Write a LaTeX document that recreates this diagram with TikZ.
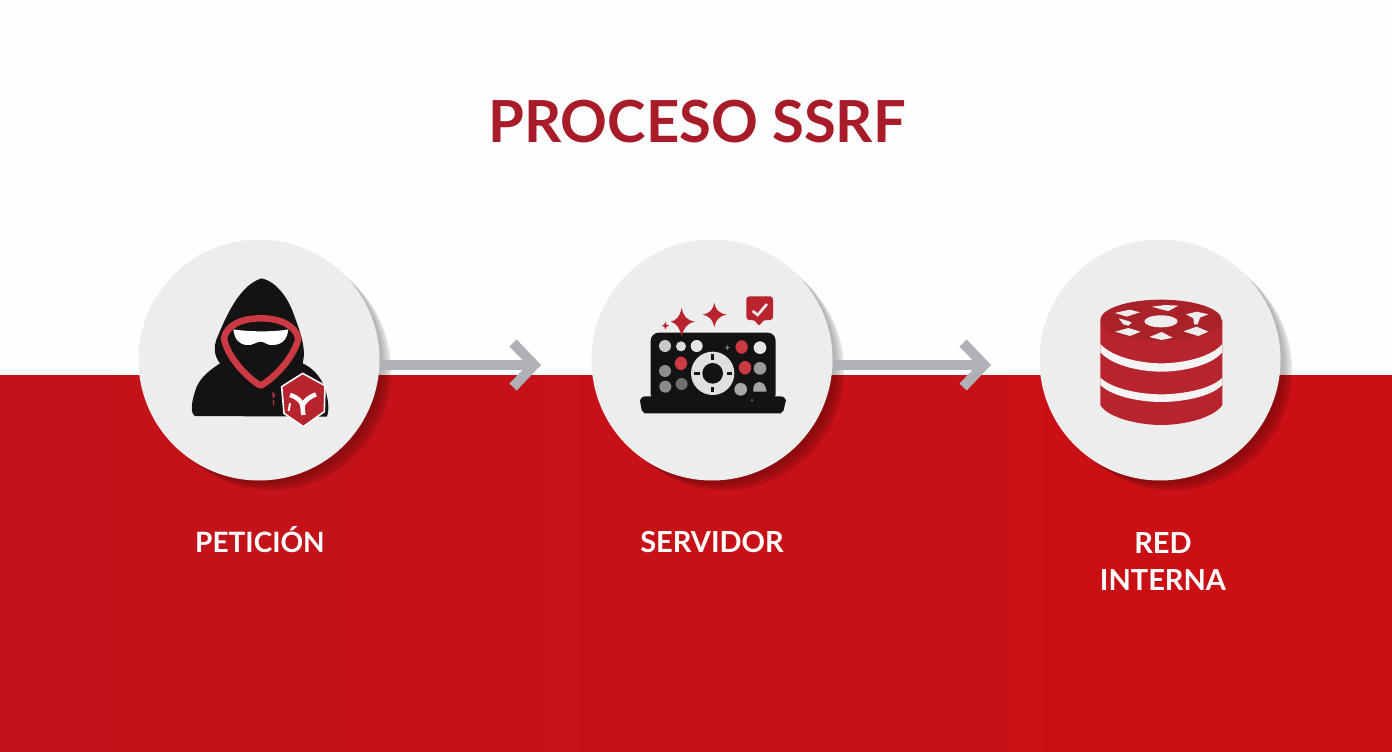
\documentclass[tikz,border=0pt]{standalone}
\usepackage{fontspec}
\setmainfont{Lato}
\usetikzlibrary{arrows.meta,calc}
\definecolor{bgredl}{HTML}{C2131A}
\definecolor{bgredr}{HTML}{CB1014}
\definecolor{paper}{HTML}{FEFEFE}
\definecolor{disc}{HTML}{EDEDEE}
\definecolor{band}{HTML}{F4F4F4}
\definecolor{titlered}{HTML}{A81B28}
\definecolor{iconred}{HTML}{B8242D}
\definecolor{ringred}{HTML}{CB3A42}
\definecolor{inkblack}{HTML}{141213}
\definecolor{flowgray}{HTML}{B0B1B6}
\tikzset{
  stepdisc/.style={circle,fill=disc,minimum size=241pt,inner sep=0pt},
  steplabel/.style={text=white,font=\fontsize{29}{37}\selectfont\bfseries,align=center,anchor=base},
  flow/.style={draw=flowgray,line width=9.5pt,-{Straight Barb[length=21pt,width=44pt,line width=10pt]}},
  zoomed/.style={x=0.33333pt,y=-0.33333pt},
  softshadow/.style={fill=black,opacity=0.05},
}
\begin{document}
\begin{tikzpicture}[x=1pt,y=-1pt]
\useasboundingbox (0,0) rectangle (1392,752);
\fill[paper] (0,0) rectangle (1392,375);
\shade[left color=bgredl,right color=bgredr] (0,375) rectangle (1392,752);
% shadows
\foreach \cx in {259,712,1160}{
  \foreach \off/\rad in {13/119,12/120,10/120,8/120,6/120,4/120}{
    \fill[softshadow] (\cx+\off,360+\off*0.85) circle[radius=\rad];
  }
}
\node[stepdisc] (c1) at (259,360) {};
\node[stepdisc] (c2) at (712,360) {};
\node[stepdisc] (c3) at (1160,360) {};
\coordinate (t1) at (541,365);
\coordinate (t2) at (991,365);
\draw[flow] (c1.east |- t1) -- (t1);
\draw[flow] (c2.east |- t2) -- (t2);
\node[anchor=base] (title) at (697,142) {\fontsize{58}{60}\selectfont\bfseries\color{titlered}PROCESO SSRF};
\node[steplabel,font=\fontsize{28}{37}\selectfont\bfseries] (l1) at (260,552) {PETICIÓN};
\node[steplabel] (l2) at (712,552) {SERVIDOR};
\node[steplabel] (l3) at (1163,590) {RED\\INTERNA};
% hacker
\begin{scope}[shift={(130,235)},zoomed]
\fill[inkblack] (395,130) .. controls (440,140) and (475,190) .. (492,240)
  .. controls (510,290) and (530,340) .. (518,385)
  .. controls (550,400) and (580,430) .. (590,480)
  .. controls (595,500) and (598,530) .. (590,545) -- (195,543)
  .. controls (180,535) and (185,500) .. (195,470)
  .. controls (205,430) and (240,405) .. (270,385)
  .. controls (250,360) and (250,330) .. (265,300)
  .. controls (290,240) and (330,150) .. (395,130) -- cycle;
\draw[ringred,line width=6.5pt,line join=round] (392,250)
  .. controls (450,250) and (495,270) .. (505,310)
  .. controls (495,360) and (440,425) .. (392,452)
  .. controls (345,425) and (290,360) .. (282,310)
  .. controls (290,270) and (335,250) .. (392,250) -- cycle;
\fill[white] (310,283) .. controls (350,290) and (430,292) .. (475,283)
  .. controls (472,310) and (460,328) .. (430,330)
  .. controls (410,332) and (405,320) .. (392,320)
  .. controls (378,320) and (370,332) .. (350,330)
  .. controls (325,328) and (313,310) .. (310,283) -- cycle;
\draw[ringred,line width=1pt] (428,470) -- (432,490) (436,478) -- (425,484) (430,495) -- (432,512);
\filldraw[fill=iconred,draw=white,line width=1.6pt,line join=round] (518,415) -- (585,452) -- (583,530) -- (520,575) -- (462,535) -- (455,455) -- cycle;
\draw[white,line width=4.5pt,line join=round] (480,480) .. controls (505,488) and (515,500) .. (517,512)
  .. controls (525,495) and (540,485) .. (558,478);
\draw[white,line width=4.5pt] (517,510) -- (520,540);
\draw[white,line width=2pt] (480,505) -- (476,528);
\end{scope}
% laptop
\begin{scope}[shift={(585,235)},zoomed]
\fill[inkblack,rounded corners=8pt] (197,293) rectangle (572,500);
\fill[inkblack,rounded corners=6pt] (163,484) -- (605,484) -- (600,510) .. controls (595,528) and (585,535) .. (570,535) -- (195,535) .. controls (180,535) and (170,525) .. (167,510) -- cycle;
\fill[iconred] (290,218) .. controls (295,245) and (305,255) .. (330,260) .. controls (305,265) and (295,280) .. (290,305) .. controls (285,280) and (275,265) .. (258,260) .. controls (275,255) and (285,245) .. (290,218) -- cycle;
\fill[iconred] (388,203) .. controls (392,225) and (402,235) .. (425,239) .. controls (402,243) and (392,255) .. (388,277) .. controls (384,255) and (374,243) .. (352,239) .. controls (374,235) and (384,225) .. (388,203) -- cycle;
\fill[iconred] (241,260) .. controls (242,268) and (245,271) .. (252,272) .. controls (245,273) and (242,277) .. (241,284) .. controls (240,277) and (237,273) .. (231,272) .. controls (237,271) and (240,268) .. (241,260) -- cycle;
\fill[iconred,rounded corners=3pt] (484,184) -- (564,184) -- (564,255) -- (535,255) -- (522,275) -- (510,255) -- (484,255) -- cycle;
\draw[disc,line width=2.6pt] (503,228) -- (518,240) -- (546,207);
\foreach \px/\py/\pr/\pc in {240/333/18/C9C9CA, 288/334/15/DDDDDE, 335/333/18/E6E6E7, 525/338/19/E6E6E7, 240/408/18/8E8E8F, 525/400/19/9A9A9B, 241/455/18/8A8A8B, 290/447/18/6F6F70, 467/463/19/A8A8A9}{
  \definecolor{dotc}{HTML}{\pc}
  \fill[dotc] (\px,\py) circle[radius=\pr];
}
\foreach \px/\py in {470/336,288/385,480/398}{
  \fill[ringred,rounded corners=2pt] (\px-21,\py) -- (\px-10,\py-20) -- (\px+10,\py-20) -- (\px+21,\py) -- (\px+10,\py+20) -- (\px-10,\py+20) -- cycle;
}
\fill[black!35!white] (505,470) -- (505,458) .. controls (510,435) and (535,435) .. (542,458) -- (545,470) -- cycle;
\fill[black!50!white] (427,329) -- (429,336) -- (436,338) -- (429,340) -- (427,347) -- (425,340) -- (418,338) -- (425,336) -- cycle;
\fill[black!60!white] (501,496) circle[radius=4];
\fill[black!12!white] (383,415) circle[radius=65];
\fill[inkblack] (383,415) circle[radius=31];
\draw[inkblack,line width=2.6pt] (383,358) -- (383,374) (383,456) -- (383,472) (328,415) -- (344,415) (425,415) -- (442,415);
\end{scope}
% database
\begin{scope}[shift={(1030,235)},zoomed]
\fill[iconred] (211,255) -- (211,510) .. controls (235,550) and (330,570) .. (393,570)
  .. controls (460,570) and (550,550) .. (577,510) -- (577,255) -- cycle;
\fill[iconred!92!black] (393,255) ellipse[x radius=182,y radius=61];
\fill[band] (211,327) .. controls (250,370) and (340,385) .. (393,385)
  .. controls (450,385) and (540,370) .. (577,327) -- (577,352)
  .. controls (540,395) and (450,410) .. (393,410)
  .. controls (340,410) and (250,395) .. (211,352) -- cycle;
\fill[band] (211,428) .. controls (250,465) and (340,478) .. (393,478)
  .. controls (450,478) and (540,465) .. (577,428) -- (577,450)
  .. controls (540,488) and (450,501) .. (393,501)
  .. controls (340,501) and (250,488) .. (211,450) -- cycle;
\fill[disc] (393,259) ellipse[x radius=50,y radius=18];
\fill[disc] (254,234) -- (285,227) -- (300,224) -- (330,232) -- (305,240) -- (290,245) -- (275,240) -- cycle;
\fill[disc] (365,215) -- (405,210) -- (445,212) -- (415,228) -- (400,225) -- cycle;
\fill[disc] (468,238) -- (500,230) -- (535,238) -- (510,248) -- (503,268) -- (492,268) -- (490,250) -- cycle;
\fill[disc] (255,290) -- (295,279) -- (332,290) -- (300,303) -- cycle;
\fill[disc] (358,306) -- (395,291) -- (428,308) -- (395,315) -- cycle;
\fill[disc] (460,289) -- (500,275) -- (535,290) -- (505,303) -- cycle;
\fill[disc] (266,250) -- (285,255) -- (305,262) -- (295,272) -- (280,268) -- cycle;
\end{scope}
\end{tikzpicture}
\end{document}
